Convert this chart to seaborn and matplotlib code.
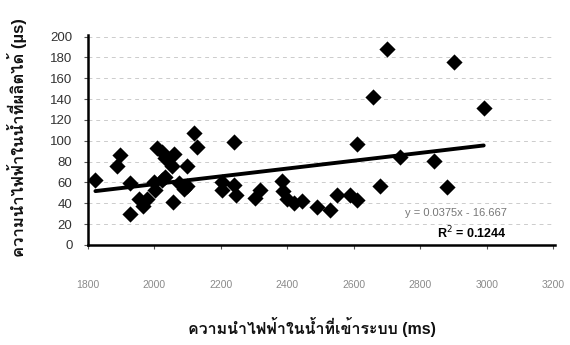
import matplotlib
matplotlib.use("Agg")
import matplotlib.pyplot as plt
from matplotlib import font_manager
from matplotlib.ft2font import FT2Font
import seaborn as sns

# conductivity of feed water (ms) vs product water (us)
feed_ms = [1823, 1888, 1898, 1928, 1928, 1953, 1965, 1978, 1998, 2003,
           2008, 2023, 2023, 2033, 2033, 2054, 2058, 2055, 2073, 2088,
           2099, 2099, 2119, 2129, 2204, 2204, 2239, 2239, 2247, 2304,
           2319, 2384, 2387, 2399, 2419, 2445, 2490, 2530, 2550, 2588,
           2610, 2610, 2658, 2678, 2700, 2740, 2840, 2881, 2903, 2991]
product_us = [62, 76, 86, 59, 30, 44, 37, 44, 60, 53,
              93, 89, 62, 83, 65, 76, 87, 41, 59, 54,
              76, 57, 107, 94, 60, 53, 99, 58, 48, 45,
              53, 61, 52, 44, 40, 42, 36, 34, 48, 48,
              43, 97, 142, 57, 188, 84, 81, 56, 176, 131]

# trendline given on the chart
slope = 0.0375
intercept = -16.667
eq_text = "y = 0.0375x - 16.667"
r2_text = "R$^2$ = 0.1244"

x_ticks = [1800, 2000, 2200, 2400, 2600, 2800, 3000, 3200]
y_ticks = [0, 20, 40, 60, 80, 100, 120, 140, 160, 180, 200]

x_title = "ความนำไฟฟ้าในน้ำที่เข้าระบบ (ms)"
y_title = "ความนำไฟฟ้าในน้ำที่ผลิตได้ (µs)"


def find_thai_font():
    for f in font_manager.fontManager.ttflist:
        try:
            if 0x0E01 in FT2Font(f.fname).get_charmap():
                return f.name
        except Exception:
            pass
    return None


sns.set_theme(style="white")
fams = ["Liberation Sans", "DejaVu Sans"]
thai = find_thai_font()
if thai:
    fams.insert(1, thai)
plt.rcParams["font.family"] = fams

fig = plt.figure(figsize=(5.7, 3.45), dpi=100)
ax = fig.add_axes([0.154, 0.29, 0.82, 0.61])

line_x = [min(feed_ms), max(feed_ms)]
line_y = [slope * v + intercept for v in line_x]

sns.scatterplot(x=feed_ms, y=product_us, marker="D", color="black",
                s=68, linewidth=0, ax=ax, zorder=3)
sns.lineplot(x=line_x, y=line_y, color="black", lw=2.8, ax=ax, zorder=4)

ax.set_xlim(1800, 3206)
ax.set_ylim(0, 202)
ax.set_xticks(x_ticks)
ax.set_yticks(y_ticks)
ax.yaxis.grid(True, ls=(0, (4, 4)), color="#cccccc", lw=0.7)
ax.set_axisbelow(True)

for s in ["top", "right"]:
    ax.spines[s].set_visible(False)
for s in ["left", "bottom"]:
    ax.spines[s].set_color("black")
    ax.spines[s].set_linewidth(1.8)

ax.tick_params(axis="x", direction="out", length=3, width=0.8, color="#555555",
               pad=22, labelsize=7.5, labelcolor="#8a8a8a", bottom=True)
ax.tick_params(axis="y", direction="out", length=3, width=0.8, color="#555555",
               pad=8, labelsize=9.5, labelcolor="#333333", left=True)

ax.text(2755, 31, eq_text, fontsize=8, color="#777777", va="center")
ax.text(2851, 11.5, r2_text, fontsize=9, color="black", fontweight="bold", va="center")

fig.text(0.547, 0.052, x_title, ha="center", va="center", fontsize=11.5,
         fontweight="bold", color="#111111")
fig.text(0.03, 0.6, y_title, ha="center", va="center", rotation=90,
         fontsize=12, fontweight="bold", color="#111111")

fig.savefig("out.png", dpi=100)
